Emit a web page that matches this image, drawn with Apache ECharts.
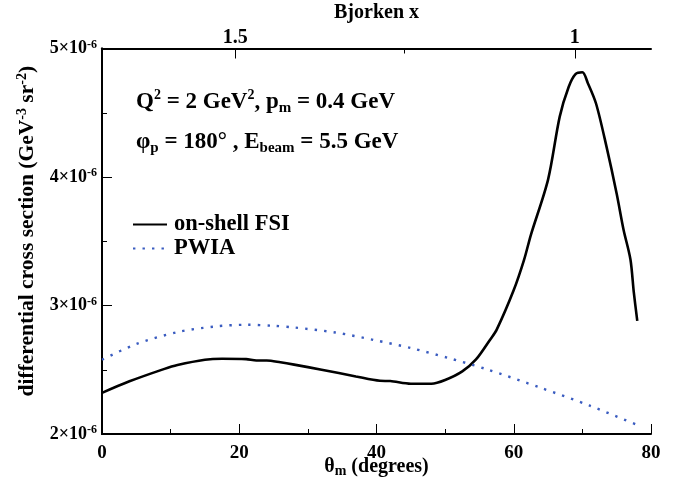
<!DOCTYPE html>
<html>
<head>
<meta charset="utf-8">
<script src="https://cdn.jsdelivr.net/npm/echarts@6/dist/echarts.min.js"></script>
<style>
    html, body { margin: 0; padding: 0; background: #fff; }
    #chart { width: 673px; height: 484px; }
</style>
</head>
<body>
<div id="chart"></div>
<script>
    // theta_m (degrees) and cross sections, in units of 1e-6 GeV^-3 sr^-2
    var fsiTheta = [0, 4, 9, 11, 15, 17.5, 21, 22.5, 24, 26, 28, 32, 37, 40.5, 42, 45, 48, 50, 52.5, 54.5, 56.5, 57.5, 60, 61.5, 62.5, 65, 66.7, 68, 69, 70, 70.8, 72, 73.5, 75, 76, 77, 77.5, 78];
    var fsiValues = [2.32, 2.41, 2.505, 2.537, 2.578, 2.586, 2.583, 2.572, 2.572, 2.558, 2.54, 2.50, 2.448, 2.414, 2.412, 2.391, 2.391, 2.42, 2.487, 2.58, 2.73, 2.81, 3.12, 3.355, 3.55, 3.98, 4.47, 4.70, 4.80, 4.815, 4.73, 4.57, 4.24, 3.87, 3.59, 3.36, 3.10, 2.88];
    var pwiaTheta = [0, 5, 11, 16.5, 21, 25, 28, 34, 39.5, 45, 50.5, 56, 64, 71, 78];
    var pwiaValues = [2.578, 2.70, 2.793, 2.837, 2.85, 2.842, 2.829, 2.79, 2.733, 2.669, 2.591, 2.505, 2.358, 2.222, 2.07];
    // Bjorken x tick positions on the theta scale
    var bjorkenTicks = [19.4, 68.9];
    var bjorkenLabels = ['1.5', '1'];
    var bjorkenMinor = [44.1];

    function pairs(xs, ys) {
        return xs.map(function (x, i) { return [x, ys[i]]; });
    }

    var FONT = '"Liberation Serif", "DejaVu Serif", serif';
    function txt(size, extra) {
        var s = { fontFamily: FONT, fontWeight: 'bold', fontSize: size, color: '#000' };
        for (var k in extra) s[k] = extra[k];
        return s;
    }

    var myChart = echarts.init(document.getElementById('chart'));
    var option = {
        animation: false,
        backgroundColor: '#fff',
        textStyle: { fontFamily: FONT, fontWeight: 'bold', color: '#000' },
        grid: { left: 102, right: 22, top: 48.5, bottom: 50, outerBoundsMode: 'none' },
        title: [{
            left: 131, top: 83,
            text: '{n|Q}{p|2}{n| = 2 GeV}{p|2}{n|, p}{b|m}{n| = 0.4 GeV}',
            textStyle: {
                rich: {
                    n: txt(23, { lineHeight: 28 }),
                    p: txt(14, { verticalAlign: 'top', lineHeight: 12 }),
                    b: txt(15, { verticalAlign: 'bottom', lineHeight: 12 })
                }
            }
        }, {
            left: 131, top: 123,
            text: '{n|\u03c6}{b|p}{n| = 180\u00b0 , E}{b|beam}{n| = 5.5 GeV}',
            textStyle: {
                rich: {
                    n: txt(23, { lineHeight: 28 }),
                    b: txt(15, { verticalAlign: 'bottom', lineHeight: 12 })
                }
            }
        }],
        legend: {
            left: 127, top: 208,
            orient: 'vertical',
            itemWidth: 34, itemHeight: 14, itemGap: 1,
            itemStyle: { opacity: 0 },
            textStyle: txt(22.5, { lineHeight: 22, padding: [0, 0, 0, 2] }),
            data: ['on-shell FSI', 'PWIA']
        },
        xAxis: [{
            type: 'value', position: 'bottom',
            min: 0, max: 80, interval: 20,
            name: '{n|\u03b8}{b|m}{n| (degrees)}',
            nameLocation: 'middle', nameGap: 22, nameMoveOverlap: false,
            nameTextStyle: {
                rich: {
                    n: txt(20, { lineHeight: 22 }),
                    b: txt(14, { verticalAlign: 'bottom', lineHeight: 10 })
                }
            },
            axisLine: { lineStyle: { color: '#000', width: 2 } },
            axisTick: { inside: true, length: 10, lineStyle: { color: '#000', width: 1 } },
            minorTick: { show: true, splitNumber: 2, length: 5, lineStyle: { color: '#000', width: 1 } },
            axisLabel: txt(19, { margin: 10 }),
            splitLine: { show: false }
        }, {
            type: 'value', position: 'top',
            min: 0, max: 80,
            name: 'Bjorken x',
            nameLocation: 'middle', nameGap: 26,
            nameTextStyle: txt(20),
            axisLine: { lineStyle: { color: '#000', width: 2 } },
            axisTick: { inside: true, length: 10, customValues: bjorkenTicks, lineStyle: { color: '#000', width: 1 } },
            axisLabel: txt(20, {
                customValues: bjorkenTicks,
                margin: 1,
                formatter: function (v) {
                    var i = bjorkenTicks.indexOf(v);
                    return i >= 0 ? bjorkenLabels[i] : '';
                }
            }),
            splitLine: { show: false }
        }, {
            type: 'value', position: 'top',
            min: 0, max: 80,
            axisLine: { show: false },
            axisTick: { inside: true, length: 5, customValues: bjorkenMinor, lineStyle: { color: '#000', width: 1 } },
            axisLabel: { show: false },
            splitLine: { show: false }
        }],
        yAxis: [{
            type: 'value', position: 'left',
            min: 2, max: 5, interval: 1,
            name: '{n|differential cross section (GeV}{p|-3}{n| sr}{p|-2}{n|)}',
            nameLocation: 'middle', nameGap: 58, nameRotate: 90,
            nameTextStyle: {
                padding: [0, 0, 0, 20],
                rich: {
                    n: txt(21.5, { lineHeight: 24 }),
                    p: txt(14, { verticalAlign: 'top', lineHeight: 10 })
                }
            },
            axisLine: { lineStyle: { color: '#000', width: 2 } },
            axisTick: { inside: true, length: 10, lineStyle: { color: '#000', width: 1 } },
            minorTick: { show: true, splitNumber: 2, length: 5, lineStyle: { color: '#000', width: 1 } },
            axisLabel: {
                margin: 5,
                formatter: function (v) { return '{n|' + v + '\u00d710}{p|-6}'; },
                rich: {
                    n: txt(18, { lineHeight: 20 }),
                    p: txt(12, { verticalAlign: 'top', lineHeight: 10 })
                }
            },
            splitLine: { show: false }
        }, {
            type: 'value', position: 'right',
            min: 2, max: 5,
            axisLine: { show: true, lineStyle: { color: '#000', width: 2 } },
            axisTick: { show: false },
            axisLabel: { show: false },
            splitLine: { show: false }
        }],
        series: [{
            name: 'on-shell FSI',
            type: 'line',
            data: pairs(fsiTheta, fsiValues),
            symbol: 'none',
            smooth: 0.3,
            itemStyle: { color: '#000' },
            lineStyle: { color: '#000', width: 2.6 }
        }, {
            name: 'PWIA',
            type: 'line',
            data: pairs(pwiaTheta, pwiaValues),
            symbol: 'none',
            smooth: 0.3,
            itemStyle: { color: '#3a5cc0' },
            lineStyle: { color: '#3a5cc0', width: 2.4, type: [2.4, 7.1] }
        }]
    };
    myChart.setOption(option);
</script>
</body>
</html>
